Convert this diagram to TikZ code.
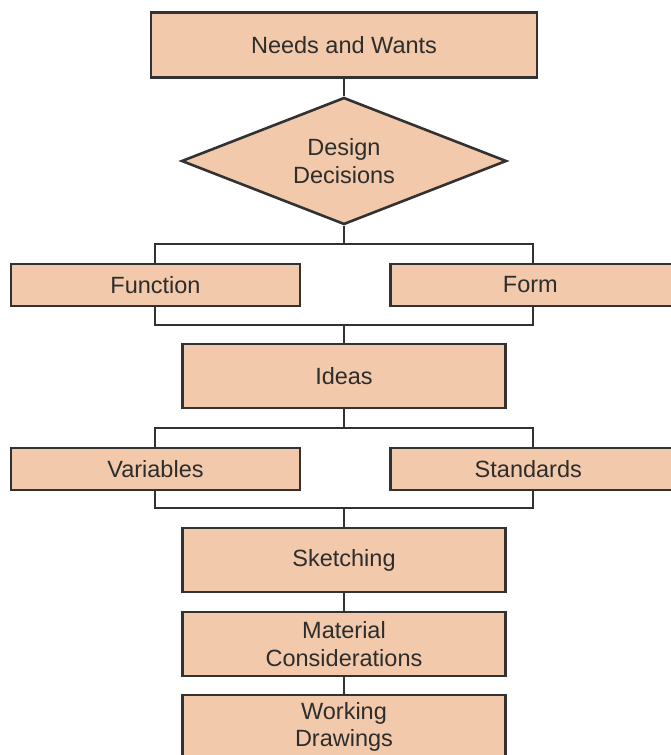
\documentclass[tikz,border=0pt]{standalone}
\usepackage{fontspec}
\setmainfont{Liberation Sans}
\usetikzlibrary{shapes.geometric}
\definecolor{peach}{RGB}{242,201,170}
\definecolor{edge}{RGB}{50,50,50}
\definecolor{txt}{RGB}{45,45,45}
\begin{document}
\begin{tikzpicture}[x=1pt,y=-1pt,
  box/.style={draw=edge,line width=2.6pt,fill=peach,text=txt,font=\fontsize{23.5}{27.5}\selectfont,align=center,inner sep=0pt},
  link/.style={draw=edge,line width=2.3pt}]
\useasboundingbox (0,0) rectangle (671,755);
\fill[white] (0,0) rectangle (671,755);
% brackets behind
\coordinate (b1tl) at (155,244); \coordinate (b1tr) at (533,244);
\coordinate (b1bl) at (155,325); \coordinate (b1br) at (533,325);
\coordinate (b2tl) at (155,428); \coordinate (b2tr) at (533,428);
\coordinate (b2bl) at (155,508); \coordinate (b2br) at (533,508);
\draw[link] (b1tl) -- (b1bl) -- (b1br) -- (b1tr) -- cycle;
\draw[link] (b2tl) -- (b2bl) -- (b2br) -- (b2tr) -- cycle;
\coordinate (b1t) at (344,244); \coordinate (b1b) at (344,325);
\coordinate (b2t) at (344,428); \coordinate (b2b) at (344,508);
% nodes
\node[box,minimum width=386pt,minimum height=65pt] (needs) at (344,45) {Needs and Wants};
\node[box,diamond,aspect=2.56,minimum width=325pt,minimum height=127pt] (dec) at (344,161) {Design\\Decisions};
\node[box,minimum width=289pt,minimum height=42pt] (func) at (155.5,285) {Function};
\node[box,minimum width=290pt,minimum height=42pt,anchor=west] (form) at (389,285) {\hspace*{-10pt}Form};
\node[box,minimum width=323pt,minimum height=64pt] (ideas) at (344,376) {Ideas};
\node[box,minimum width=289pt,minimum height=42pt] (vars) at (155.5,469) {Variables};
\node[box,minimum width=290pt,minimum height=42pt,anchor=west] (stds) at (389,469) {\hspace*{-14pt}Standards};
\node[box,minimum width=323pt,minimum height=64pt] (sketch) at (344,560) {Sketching};
\node[box,minimum width=323pt,minimum height=64pt] (mat) at (344,644) {Material\\Considerations};
\node[box,minimum width=323pt,minimum height=64pt] (work) at (344,727) {Working\\Drawings};
% connectors
\draw[link] (needs.south) -- (dec.north);
\draw[link] (dec.south) -- (b1t);
\draw[link] (b1b) -- (ideas.north);
\draw[link] (ideas.south) -- (b2t);
\draw[link] (b2b) -- (sketch.north);
\draw[link] (sketch.south) -- (mat.north);
\draw[link] (mat.south) -- (work.north);
\end{tikzpicture}
\end{document}
